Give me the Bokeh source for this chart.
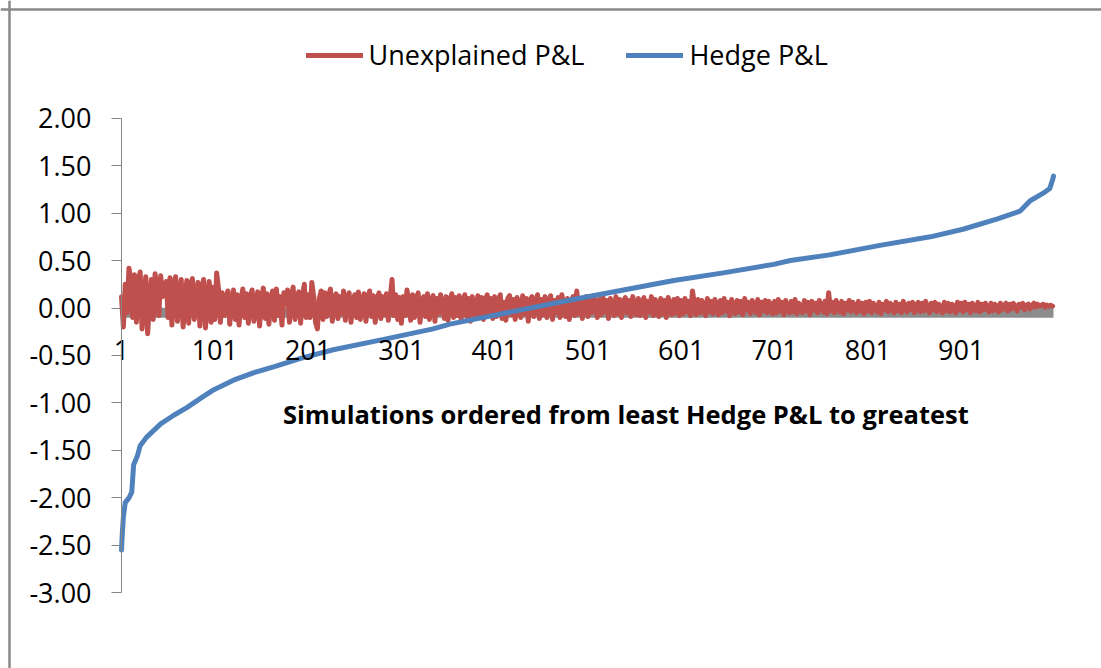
from bokeh.plotting import figure
from bokeh.models import (Range1d, FixedTicker, Span, Legend, LegendItem, Label,
                          NumeralTickFormatter)
from bokeh.embed import file_html
from bokeh.resources import INLINE

# ---- data ----
# Unexplained P&L, sampled every 2nd simulation (1, 3, 5, ... 999)
sim_index = list(range(1, 1001, 2))
unexplained = [
    0.12, -0.20, 0.25, -0.05, 0.42, 0.30, -0.10, 0.35, -0.15, 0.28, 0.38, -0.22, 0.10, 0.33, -0.27, 0.05, 0.30, -0.12, 0.36, 0.20, -0.08, 0.34, 0.12, 0.15, 0.28,
    -0.10, 0.32, -0.18, 0.22, 0.33, -0.14, 0.18, 0.30, -0.20, 0.05, 0.29, -0.16, 0.24, 0.31, -0.12, 0.15, 0.27, -0.19, 0.20, 0.30, -0.21, 0.08, 0.28, -0.15, 0.22,
    -0.12, 0.37, 0.20, -0.15, 0.16, -0.08, 0.10, 0.18, -0.17, 0.05, 0.19, -0.12, 0.14, -0.18, 0.08, 0.20, -0.10, 0.15, -0.16, 0.12, 0.19, -0.14, 0.06, 0.17, -0.19,
    0.10, 0.21, -0.11, 0.15, -0.17, 0.09, 0.18, -0.13, 0.20, -0.08, 0.12, -0.18, 0.16, 0.04, 0.19, -0.15, 0.11, 0.22, -0.12, 0.08, 0.17, -0.16, 0.13, 0.25, -0.10,
    0.14, -0.10, 0.27, 0.12, -0.15, -0.22, 0.10, 0.18, -0.12, 0.16, -0.09, 0.13, 0.20, -0.14, 0.08, 0.15, -0.11, 0.12, -0.06, 0.18, -0.13, 0.10, 0.16, -0.15, 0.07,
    0.14, -0.10, 0.17, -0.12, 0.05, 0.15, -0.14, 0.11, 0.18, -0.09, 0.13, -0.15, 0.09, 0.16, -0.11, 0.12, -0.07, 0.15, -0.13, 0.10, 0.30, -0.08, 0.14, -0.12, 0.11,
    -0.16, 0.12, -0.08, 0.19, 0.05, -0.13, 0.14, -0.10, 0.09, 0.16, -0.15, 0.06, 0.12, -0.09, 0.15, -0.12, 0.08, 0.13, -0.14, 0.10, -0.06, 0.14, 0.02, -0.11, 0.12,
    -0.13, 0.07, 0.15, -0.10, 0.11, -0.08, 0.13, -0.12, 0.06, 0.14, -0.09, 0.10, -0.14, 0.12, 0.04, -0.10, 0.13, -0.07, 0.11, -0.12, 0.09, 0.14, -0.08, 0.10, -0.11,
    0.12, -0.09, 0.08, 0.14, -0.11, 0.06, -0.13, 0.10, 0.13, -0.07, 0.09, -0.12, 0.11, 0.04, -0.10, 0.13, -0.06, 0.10, -0.14, 0.08, 0.12, -0.09, 0.05, 0.14, -0.11,
    0.09, -0.07, 0.12, -0.10, 0.06, 0.13, -0.12, 0.08, -0.05, 0.11, -0.10, 0.14, 0.03, -0.09, 0.10, -0.12, 0.07, 0.12, -0.08, 0.18, -0.06, 0.10, -0.11, 0.08, 0.12,
    -0.09, 0.11, -0.05, 0.13, 0.06, -0.10, 0.09, -0.07, 0.12, -0.04, 0.08, -0.11, 0.10, 0.03, -0.08, 0.12, -0.06, 0.09, -0.10, 0.07, 0.11, -0.05, 0.08, -0.09, 0.12,
    0.02, -0.07, 0.10, -0.08, 0.06, 0.11, -0.10, 0.07, -0.04, 0.12, -0.08, 0.09, 0.04, -0.09, 0.10, -0.06, 0.08, -0.10, 0.11, 0.03, -0.07, 0.09, -0.05, 0.10, -0.08,
    0.08, -0.06, 0.10, -0.04, 0.07, -0.08, 0.18, 0.05, -0.07, 0.09, -0.05, 0.08, 0.02, -0.08, 0.10, -0.04, 0.07, -0.06, 0.09, 0.03, -0.07, 0.08, -0.05, 0.10, -0.03,
    0.06, -0.08, 0.09, 0.02, -0.06, 0.08, -0.04, 0.07, -0.07, 0.10, -0.02, 0.06, -0.06, 0.08, 0.03, -0.05, 0.09, -0.07, 0.06, -0.03, 0.08, -0.05, 0.07, 0.02, -0.06,
    0.07, -0.05, 0.09, -0.03, 0.06, -0.07, 0.08, 0.02, -0.05, 0.07, -0.04, 0.09, -0.06, 0.05, 0.01, -0.05, 0.08, -0.03, 0.06, -0.07, 0.07, -0.02, 0.05, -0.05, 0.08,
    0.02, -0.04, 0.07, -0.06, 0.16, -0.03, 0.06, -0.05, 0.08, 0.01, -0.04, 0.07, -0.06, 0.05, -0.02, 0.08, -0.04, 0.06, 0.02, -0.05, 0.07, -0.03, 0.05, -0.06, 0.06,
    -0.03, 0.07, -0.05, 0.05, 0.01, -0.04, 0.06, -0.06, 0.04, -0.02, 0.07, -0.04, 0.05, 0.02, -0.05, 0.06, -0.03, 0.04, -0.05, 0.07, 0.01, -0.04, 0.05, -0.02, 0.06,
    -0.05, 0.03, 0.06, -0.04, 0.05, -0.03, 0.07, 0.00, -0.05, 0.05, -0.02, 0.06, -0.04, 0.04, 0.01, -0.05, 0.06, -0.03, 0.05, -0.04, 0.04, 0.02, -0.05, 0.06, -0.02,
    0.05, -0.04, 0.06, -0.02, 0.04, -0.05, 0.05, 0.01, -0.03, 0.06, -0.04, 0.04, -0.02, 0.05, 0.00, -0.04, 0.05, -0.03, 0.04, 0.02, -0.04, 0.05, -0.02, 0.03, 0.05,
    -0.03, 0.04, -0.01, 0.05, 0.02, -0.03, 0.04, 0.01, 0.05, -0.02, 0.03, 0.04, -0.01, 0.03, 0.05, 0.01, 0.04, 0.02, 0.03, 0.04, 0.01, 0.03, 0.02, 0.03, 0.02,
]

# Hedge P&L (sorted), read at these simulation numbers
hedge_index = [1, 2, 3, 5, 9, 12, 14, 18, 21, 28, 43, 57, 71, 86, 100, 121, 143, 164,
               193, 228, 282, 335, 353, 414, 485, 539, 593, 646, 700, 718, 760, 814,
               868, 903, 940, 964, 975, 989, 996, 999, 1000]
hedge = [-2.55, -2.35, -2.20, -2.05, -2.00, -1.94, -1.65, -1.56, -1.45, -1.36, -1.22,
         -1.13, -1.05, -0.95, -0.86, -0.76, -0.68, -0.62, -0.53, -0.44, -0.33, -0.22,
         -0.17, -0.05, 0.09, 0.19, 0.29, 0.37, 0.46, 0.50, 0.56, 0.66, 0.75, 0.83,
         0.94, 1.02, 1.13, 1.21, 1.26, 1.35, 1.39]

x_ticks = [1, 101, 201, 301, 401, 501, 601, 701, 801, 901]
y_ticks = [-3.0, -2.5, -2.0, -1.5, -1.0, -0.5, 0.0, 0.5, 1.0, 1.5, 2.0]
series_names = ["Unexplained P&L", "Hedge P&L"]
x_title = "Simulations ordered from least Hedge P&L to greatest"
# grey band running just under the zero line across all simulations
band_x = [1, 1000]
band_y = [-0.05, -0.05]

FONT = "Open Sans"
W, H = 1101, 668

# The whole canvas is the frame; both axes sit at fixed data positions.
p = figure(width=W, height=H,
           x_range=Range1d(-128.70, 1051.45), y_range=Range1d(-3.798, 3.240),
           output_backend="svg", toolbar_location=None,
           min_border=0, x_axis_location="below", y_axis_location="left")
p.title.visible = False
p.grid.visible = False
p.outline_line_color = None
p.background_fill_color = "white"
p.border_fill_color = "white"

# chart-area border (top and left edges)
p.add_layout(Span(location=-119.05, dimension="height", line_color="#898989",
                  line_width=2.5))
p.add_layout(Span(location=3.145, dimension="width", line_color="#898989",
                  line_width=2.5))

# y axis (value axis, crosses at simulation 1)
ya = p.yaxis[0]
ya.fixed_location = 1
ya.bounds = (-3, 2)
ya.ticker = FixedTicker(ticks=y_ticks)
ya.formatter = NumeralTickFormatter(format="0.00")
ya.axis_line_color = "#868686"
ya.major_tick_line_color = "#868686"
ya.major_tick_out = 10
ya.major_tick_in = 0
ya.minor_tick_line_color = None
ya.major_label_standoff = 20
ya.major_label_text_font = FONT
ya.major_label_text_font_size = "27px"
ya.major_label_text_color = "#000000"

# x axis (category axis crossing at zero)
xa = p.xaxis[0]
xa.fixed_location = 0
xa.bounds = (1, 1000)
xa.ticker = FixedTicker(ticks=x_ticks)
xa.axis_line_color = None
xa.major_tick_line_color = None
xa.minor_tick_line_color = None
xa.major_label_standoff = 26
xa.major_label_text_font = FONT
xa.major_label_text_font_size = "27px"
xa.major_label_text_color = "#000000"

p.line(band_x, band_y, line_color="#8c8c8c", line_width=10, line_cap="butt")

r_red = p.line(sim_index, unexplained, line_color="#C0504D", line_width=5,
               line_join="round", line_cap="round")
r_blue = p.line(hedge_index, hedge, line_color="#4F81BD", line_width=5,
                line_join="round", line_cap="round")

legend = Legend(items=[LegendItem(label=series_names[0], renderers=[r_red]),
                       LegendItem(label=series_names[1], renderers=[r_blue])],
                orientation="horizontal", location=(305.5, 595),
                glyph_width=57, glyph_height=36, label_standoff=6, spacing=42,
                padding=0, margin=0, border_line_color=None,
                background_fill_alpha=0,
                label_text_font=FONT, label_text_font_size="27px",
                label_text_color="#000000")
p.add_layout(legend)

title = Label(x=541.7, y=-1.114, text=x_title, text_font=FONT,
              text_font_style="bold", text_font_size="25.5px",
              text_align="center", text_baseline="middle", text_color="#000000")
p.add_layout(title)

open("out.html", "w").write(file_html(p, INLINE))
